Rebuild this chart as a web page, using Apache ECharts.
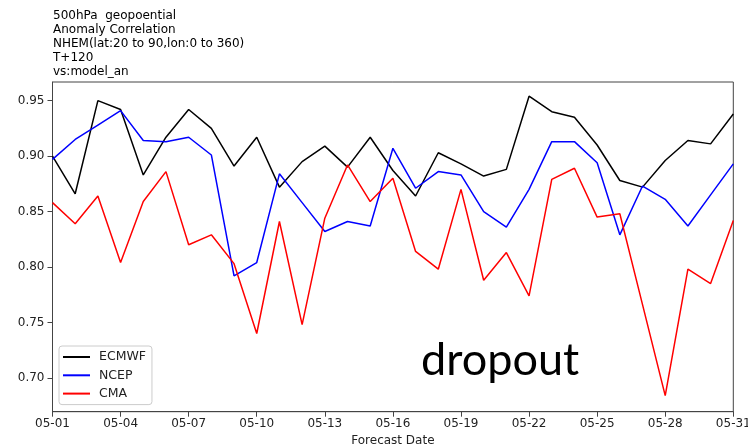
<!DOCTYPE html>
<html>
<head>
<meta charset="utf-8">
<script src="https://cdn.jsdelivr.net/npm/echarts@6/dist/echarts.min.js"></script>
<style>
  html, body { margin: 0; padding: 0; background: #fff; }
  #chart { width: 748px; height: 448px; }
</style>
</head>
<body>
<div id="chart"></div>
<script>
// Forecast dates (May)
const dates = [
  '05-01','05-02','05-03','05-04','05-05','05-06','05-07','05-08','05-09','05-10',
  '05-11','05-12','05-13','05-14','05-15','05-16','05-17','05-18','05-19','05-20',
  '05-21','05-22','05-23','05-24','05-25','05-26','05-27','05-28','05-29','05-30','05-31'
];

// 500hPa geopotential anomaly correlation, T+120
const ecmwf = [
  0.900, 0.866, 0.950, 0.942, 0.883, 0.917, 0.942, 0.925, 0.891, 0.917,
  0.872, 0.895, 0.909, 0.890, 0.917, 0.887, 0.864, 0.903, 0.893, 0.882,
  0.888, 0.954, 0.940, 0.935, 0.910, 0.878, 0.872, 0.896, 0.914, 0.911, 0.938
];
const ncep = [
  0.897, 0.915, 0.928, 0.941, 0.914, 0.913, 0.917, 0.901, 0.792, 0.804,
  0.884, 0.858, 0.832, 0.841, 0.837, 0.907, 0.871, 0.886, 0.883, 0.850,
  0.836, 0.870, 0.913, 0.913, 0.894, 0.829, 0.873, 0.861, 0.837, 0.865, 0.893
];
const cma = [
  0.858, 0.839, 0.864, 0.804, 0.859, 0.886, 0.820, 0.829, 0.803, 0.740,
  0.841, 0.748, 0.844, 0.892, 0.859, 0.880, 0.814, 0.798, 0.870, 0.788,
  0.813, 0.774, 0.879, 0.889, 0.845, 0.848, 0.766, 0.684, 0.798, 0.785, 0.842
];

// Y tick labels
const yTicks = [0.70, 0.75, 0.80, 0.85, 0.90, 0.95];

const titleLines = [
  '500hPa  geopoential',
  'Anomaly Correlation',
  'NHEM(lat:20 to 90,lon:0 to 360)',
  'T+120',
  'vs:model_an'
];

const seriesDefs = [
  { name: 'ECMWF', data: ecmwf, color: '#000000' },
  { name: 'NCEP',  data: ncep,  color: '#0000ff' },
  { name: 'CMA',   data: cma,   color: '#ff0000' }
];

const FONT = '"DejaVu Sans", sans-serif';
const AXIS_COLOR = '#444';

const chart = echarts.init(document.getElementById('chart'), null, { renderer: 'canvas' });

chart.setOption({
  animation: false,
  backgroundColor: '#fff',
  title: {
    text: titleLines.join('\n'),
    left: 48,
    top: 9,
    padding: [0, 5],
    textStyle: {
      fontFamily: FONT,
      fontSize: 12,
      fontWeight: 'normal',
      color: '#000',
      lineHeight: 14
    }
  },
  grid: {
    left: 52.5,
    right: 14.7,
    top: 82,
    bottom: 36.3,
    outerBoundsMode: 'none',
    containLabel: false,
    show: true,
    borderColor: AXIS_COLOR,
    borderWidth: 1,
    backgroundColor: 'transparent'
  },
  legend: {
    orient: 'vertical',
    left: 59,
    top: 346,
    padding: [4, 6, 4, 4],
    itemGap: 4.3,
    itemWidth: 27,
    itemHeight: 2,
    icon: 'rect',
    borderColor: '#cccccc',
    borderWidth: 1,
    borderRadius: 3,
    backgroundColor: 'rgba(255,255,255,0.8)',
    textStyle: {
      fontFamily: FONT,
      fontSize: 12.5,
      color: '#222',
      lineHeight: 14,
      padding: [0, 0, 0, 4]
    },
    data: seriesDefs.map(s => s.name)
  },
  xAxis: {
    type: 'category',
    data: dates,
    boundaryGap: false,
    name: 'Forecast Date',
    nameLocation: 'middle',
    nameGap: 22,
    nameTextStyle: { fontFamily: FONT, fontSize: 12, color: '#222' },
    axisLine: { show: true, lineStyle: { color: AXIS_COLOR, width: 1 } },
    axisTick: { show: true, interval: 2, length: 5, inside: false, lineStyle: { color: AXIS_COLOR } },
    axisLabel: { interval: 2, margin: 6, fontFamily: FONT, fontSize: 12, color: '#222', hideOverlap: false },
    splitLine: { show: false }
  },
  yAxis: {
    type: 'value',
    min: 0.6695,
    max: 0.9668,
    axisLine: { show: true, lineStyle: { color: AXIS_COLOR, width: 1 } },
    axisTick: { show: true, length: 5, lineStyle: { color: AXIS_COLOR }, customValues: yTicks },
    axisLabel: {
      margin: 8,
      fontFamily: FONT,
      fontSize: 12,
      color: '#222',
      customValues: yTicks,
      formatter: v => v.toFixed(2)
    },
    splitLine: { show: false }
  },
  series: seriesDefs.map(s => ({
    name: s.name,
    type: 'line',
    data: s.data,
    symbol: 'none',
    smooth: false,
    color: s.color,
    lineStyle: { color: s.color, width: 1.5 },
    itemStyle: { color: s.color }
  })),
  graphic: [
    {
      type: 'text',
      x: 421,
      y: 360,
      style: {
        text: 'dropout',
        font: '45px Lato, "Open Sans", sans-serif',
        fill: '#000',
        verticalAlign: 'middle',
        align: 'left'
      }
    }
  ]
});
</script>
</body>
</html>
